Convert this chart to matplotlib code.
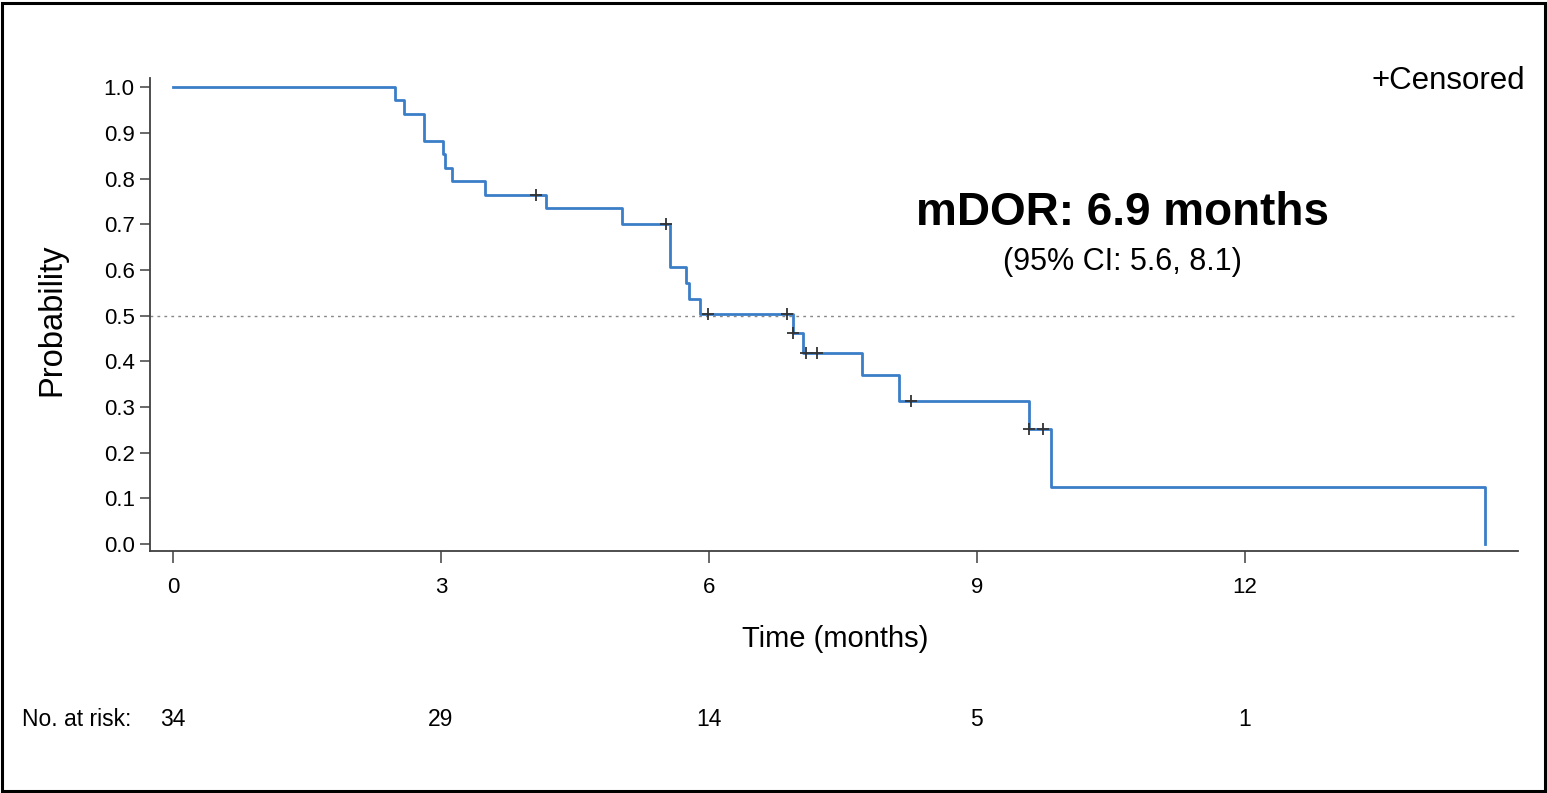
import matplotlib
matplotlib.use('Agg')
import matplotlib.pyplot as plt
import matplotlib.transforms as mtransforms
from matplotlib.patches import Rectangle

plt.rcParams['font.family'] = ['Liberation Sans', 'DejaVu Sans']

# Kaplan-Meier steps
step_times = [0, 2.49, 2.59, 2.81, 3.02, 3.05, 3.12, 3.49, 4.18, 5.03, 5.56,
              5.74, 5.78, 5.90, 6.94, 7.06, 7.72, 8.13, 9.58, 9.83, 14.69]
step_surv = [1.0, 0.971, 0.941, 0.882, 0.853, 0.824, 0.794, 0.765, 0.735, 0.701, 0.607,
             0.572, 0.537, 0.504, 0.463, 0.418, 0.370, 0.314, 0.251, 0.126, 0.0]

# censored observations
censor_times = [4.06, 5.52, 5.99, 6.88, 6.94, 7.09, 7.21, 8.26, 9.58, 9.74]
censor_surv = [0.765, 0.701, 0.504, 0.504, 0.463, 0.418, 0.418, 0.314, 0.251, 0.251]

risk_times = [0, 3, 6, 9, 12]
risk_counts = [34, 29, 14, 5, 1]

yticks = [0.0, 0.1, 0.2, 0.3, 0.4, 0.5, 0.6, 0.7, 0.8, 0.9, 1.0]

W, H = 1547, 793
fig = plt.figure(figsize=(W / 100, H / 100), dpi=100)
ax = fig.add_axes([150 / W, 1 - 551 / H, (1518 - 150) / W, (551 - 78) / H])

ax.step(step_times, step_surv, where='post', color='#3b7ec8', lw=2.0, zorder=3)
ax.plot(censor_times, censor_surv, '+', color='#333333', ms=9, mew=1.3, zorder=4)
ax.axhline(0.5, color='#888888', lw=1.0, ls=(0, (2, 3)), zorder=1)

ax.set_xlim(-0.257, 15.06)
ax.set_ylim(-0.015, 1.02)
ax.set_xticks(risk_times)
ax.set_yticks(yticks)
ax.set_yticklabels(['%.1f' % v for v in yticks])

for s in ['top', 'right']:
    ax.spines[s].set_visible(False)
for s in ['left', 'bottom']:
    ax.spines[s].set_color('#404040')
    ax.spines[s].set_linewidth(1.3)

ax.tick_params(axis='y', length=7, width=1.1, color='#404040', pad=4, labelsize=16)
ax.tick_params(axis='x', length=8.5, width=1.1, color='#404040', pad=10, labelsize=16)

fig.text(52 / W, 1 - 320 / H, 'Probability', rotation=90, ha='center', va='center', fontsize=23.5)
fig.text(835 / W, 1 - 639 / H, 'Time (months)', ha='center', va='center', fontsize=21)

fig.text(1122 / W, 1 - 213 / H, 'mDOR: 6.9 months', ha='center', va='center',
         fontsize=33, fontweight='bold')
fig.text(1122 / W, 1 - 262 / H, '(95% CI: 5.6, 8.1)', ha='center', va='center', fontsize=22)
fig.text(1525 / W, 1 - 81 / H, '+Censored', ha='right', va='center', fontsize=22.5)

# numbers at risk
trans = mtransforms.blended_transform_factory(ax.transData, fig.transFigure)
fig.text(22 / W, 1 - 720 / H, 'No. at risk:', ha='left', va='center', fontsize=16.5)
for t, n in zip(risk_times, risk_counts):
    ax.text(t, 1 - 720 / H, str(n), transform=trans, ha='center', va='center',
            fontsize=16.5, clip_on=False)

# outer frame
fig.patches.append(Rectangle((1.5 / W, 2 / H), 1543.5 / W, 788 / H, transform=fig.transFigure,
                             fill=False, edgecolor='black', lw=2.2))

fig.savefig('out.png', dpi=100)
